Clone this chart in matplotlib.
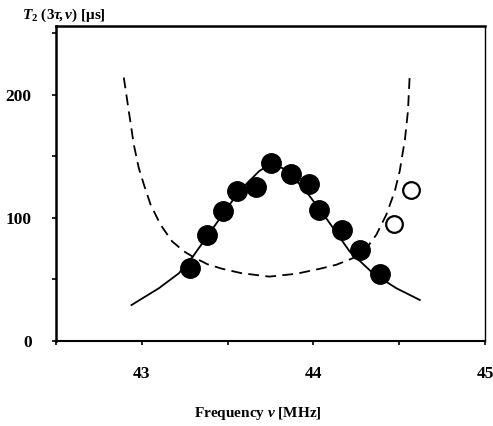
import matplotlib
matplotlib.use("Agg")
import matplotlib.pyplot as plt
from matplotlib.ticker import MultipleLocator

# measured data (filled circles)
freq_filled = [43.279, 43.382, 43.474, 43.557, 43.665, 43.753, 43.869, 43.972, 44.031, 44.168, 44.269, 44.390]
t2_filled = [59.0, 85.7, 105.3, 121.6, 124.9, 144.7, 135.3, 127.1, 106.1, 90.4, 74.0, 54.4]
# open circles
freq_open = [44.468, 44.571]
t2_open = [94.9, 123.0]

# solid curve
freq_solid = [42.940, 43.099, 43.216, 43.298, 43.450, 43.567, 43.684, 43.753, 43.840, 43.957, 44.074, 44.211, 44.347, 44.484, 44.620]
t2_solid = [29.1, 42.7, 54.9, 68.6, 98.5, 121.6, 138.0, 143.9, 139.3, 121.6, 99.8, 72.7, 54.9, 42.7, 33.2]

# dashed curve
freq_dash = [42.895, 42.924, 42.953, 42.982, 43.012, 43.051, 43.109, 43.177, 43.246, 43.304, 43.382, 43.470,
             43.580, 43.743, 43.900, 44.035, 44.133, 44.230, 44.309, 44.367, 44.425, 44.474, 44.503, 44.522,
             44.532, 44.551, 44.561]
t2_dash = [214.1, 186.9, 159.8, 140.7, 127.1, 110.8, 94.4, 80.8, 72.7, 67.8, 62.3, 58.5,
           55.0, 52.2, 54.5, 58.5, 61.8, 67.2, 75.3, 86.3, 102.6, 121.6, 138.0, 154.3,
           162.0, 186.9, 215.5]

xticks = [43, 44, 45]
yticks = [0, 100, 200]

plt.rcParams['font.family'] = ['Liberation Serif', 'DejaVu Serif']
plt.rcParams['font.weight'] = 'bold'
plt.rcParams['mathtext.fontset'] = 'custom'
plt.rcParams['mathtext.rm'] = 'Liberation Serif:bold'
plt.rcParams['mathtext.it'] = 'Liberation Serif:italic:bold'
plt.rcParams['mathtext.bf'] = 'Liberation Serif:bold'

fig = plt.figure(figsize=(4.93, 4.26), dpi=100)
ax = fig.add_axes([0.1136, 0.2, 0.8702, 0.739])

ax.plot(freq_dash, t2_dash, color='black', lw=1.3, dashes=(6, 3.5))
ax.plot(freq_solid, t2_solid, color='black', lw=1.3)
ax.plot(freq_filled, t2_filled, 'o', color='black', ms=14, zorder=3)
ax.plot(freq_open, t2_open, 'o', mfc='white', mec='black', mew=1.6, ms=12, zorder=3)

ax.set_xlim(42.5, 45)
ax.set_ylim(0, 256)
ax.set_xticks(xticks)
ax.set_yticks(yticks)
ax.xaxis.set_minor_locator(MultipleLocator(0.5))
ax.yaxis.set_minor_locator(MultipleLocator(50))
ax.tick_params(axis='both', which='both', direction='out', length=3, width=1.2,
               labelsize=12.5)
ax.tick_params(axis='y', which='major', pad=14.5)
ax.tick_params(axis='x', which='major', pad=15)
for lab in ax.get_xticklabels() + ax.get_yticklabels():
    lab.set_fontweight('bold')

for s in ['left', 'top']:
    ax.spines[s].set_linewidth(1.8)
ax.spines['bottom'].set_linewidth(1.5)
ax.spines['right'].set_linewidth(1.0)

fig.text(0.045, 0.965, r"$T_2\ (3\tau\!,\nu)$ [μs]", fontsize=11, fontweight='bold',
         va='center', ha='left')
fig.text(0.523, 0.03, r"Frequency $\nu$ [MHz]", fontsize=11, fontweight='bold',
         va='center', ha='center')

fig.savefig("out.png", dpi=100)
